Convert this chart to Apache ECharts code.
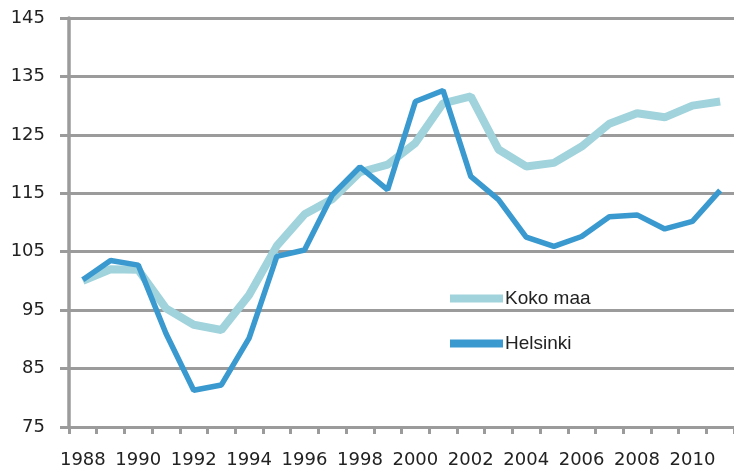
<!DOCTYPE html>
<html><head><meta charset="utf-8">
<script src="https://cdn.jsdelivr.net/npm/echarts@6/dist/echarts.min.js"></script>
<style>html,body{margin:0;padding:0;background:#fff}#c{width:734px;height:472px}</style>
</head><body><div id="c"></div>
<script>
var years = ['1988','1989','1990','1991','1992','1993','1994','1995','1996','1997','1998','1999','2000','2001','2002','2003','2004','2005','2006','2007','2008','2009','2010','2011'];
var kokoMaa = [100.0,102.0,101.9,95.3,92.5,91.6,97.6,106.0,111.4,114.0,118.6,119.9,123.6,130.4,131.6,122.5,119.6,120.2,123.0,126.9,128.7,128.0,130.0,130.7];
var helsinki = [100.2,103.5,102.7,91.0,81.3,82.2,90.2,104.2,105.3,114.7,119.5,115.6,130.7,132.6,117.9,113.9,107.5,105.9,107.6,111.0,111.3,108.9,110.2,115.5];
var yMin = 75, yMax = 145, yStep = 10;

var chart = echarts.init(document.getElementById('c'), null, {renderer:'canvas'});
var gray = '#9b9b9b';
chart.setOption({
  animation: false,
  grid: {left: 69, right: -6, top: 18, bottom: 45, containLabel: false},
  legend: {
    orient: 'vertical', left: 445, top: 284, itemGap: 26,
    icon: 'rect', itemWidth: 53, itemHeight: 8,
    textStyle: {fontFamily: 'Liberation Sans', fontSize: 19, color: '#222', padding: [0,0,0,-3]},
    data: ['Koko maa', 'Helsinki']
  },
  xAxis: {
    type: 'category', data: years, boundaryGap: true,
    axisLine: {show: true, lineStyle: {color: gray, width: 3}},
    axisTick: {show: true, length: 7, interval: 0, lineStyle: {color: gray, width: 3}},
    axisLabel: {interval: 1, margin: 24, fontFamily: 'DejaVu Sans', fontSize: 18, color: '#222'},
    splitLine: {show: false}
  },
  yAxis: {
    type: 'value', min: yMin, max: yMax, interval: yStep,
    axisLine: {show: true, lineStyle: {color: gray, width: 3.5}},
    axisTick: {show: true, length: 9, lineStyle: {color: gray, width: 3}},
    axisLabel: {margin: 24, fontFamily: 'DejaVu Sans', fontSize: 18, color: '#222'},
    splitLine: {show: true, lineStyle: {color: gray, width: 3}}
  },
  series: [
    {name: 'Koko maa', type: 'line', data: kokoMaa, symbol: 'none',
     lineStyle: {color: '#a0d3dc', width: 8}, itemStyle: {color: '#a0d3dc'}},
    {name: 'Helsinki', type: 'line', data: helsinki, symbol: 'none',
     lineStyle: {color: '#3a9ad0', width: 5.5}, itemStyle: {color: '#3a9ad0'}}
  ]
});
</script></body></html>
